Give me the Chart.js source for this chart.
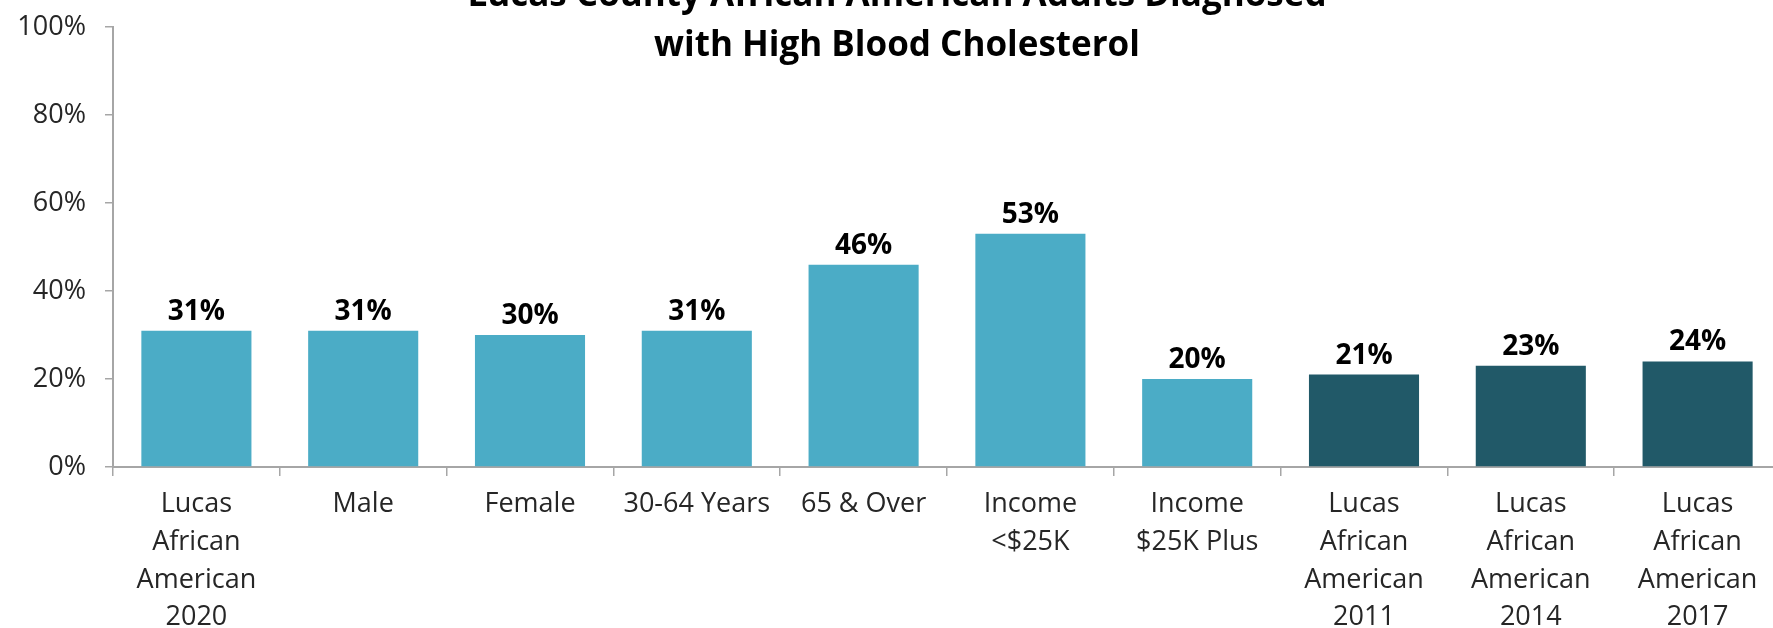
<!DOCTYPE html>
<html>
<head>
<meta charset="utf-8">
<script src="https://cdn.jsdelivr.net/npm/chart.js@4"></script>
<style>
  html, body { margin: 0; padding: 0; background: #fff; overflow: hidden; }
  #chart { display: block; }
</style>
</head>
<body>
<canvas id="chart" width="1781" height="628"></canvas>
<script>
// Chart data
const categories = [
  ['Lucas', 'African', 'American', '2020'],
  'Male',
  'Female',
  '30-64 Years',
  '65 & Over',
  ['Income', '<$25K'],
  ['Income', '$25K Plus'],
  ['Lucas', 'African', 'American', '2011'],
  ['Lucas', 'African', 'American', '2014'],
  ['Lucas', 'African', 'American', '2017']
];
const values = [31, 31, 30, 31, 46, 53, 20, 21, 23, 24];
const barColors = ['#4BACC6', '#4BACC6', '#4BACC6', '#4BACC6', '#4BACC6', '#4BACC6', '#4BACC6',
                   '#215968', '#215968', '#215968'];
const titleLines = ['Lucas County African American Adults Diagnosed', 'with High Blood Cholesterol'];
const yTicks = [0, 20, 40, 60, 80, 100];

const axisColor = '#a6a6a6';
const fontFamily = '"Open Sans", "Noto Sans", sans-serif';

// Draw the title (partly cut off at the top, like the original)
const titlePlugin = {
  id: 'titleText',
  afterDraw(chart) {
    const ctx = chart.ctx;
    ctx.save();
    ctx.fillStyle = '#000';
    ctx.font = `bold 35px ${fontFamily}`;
    ctx.textAlign = 'center';
    ctx.textBaseline = 'alphabetic';
    ctx.fillText(titleLines[0], 897, 6);
    ctx.fillText(titleLines[1], 897, 56);
    ctx.restore();
  }
};

// Value labels above the bars
const valueLabels = {
  id: 'valueLabels',
  afterDatasetsDraw(chart) {
    const ctx = chart.ctx;
    const meta = chart.getDatasetMeta(0);
    ctx.save();
    ctx.fillStyle = '#000';
    ctx.font = `bold 28px ${fontFamily}`;
    ctx.textAlign = 'center';
    ctx.textBaseline = 'alphabetic';
    meta.data.forEach((bar, i) => {
      ctx.fillText(Math.round(values[i]) + '%', bar.x, bar.y - 11);
    });
    ctx.restore();
  }
};

const ctx = document.getElementById('chart').getContext('2d');
new Chart(ctx, {
  type: 'bar',
  data: {
    labels: categories,
    datasets: [{
      data: values,
      backgroundColor: barColors,
      borderWidth: 0,
      categoryPercentage: 1,
      barPercentage: 0.66
    }]
  },
  options: {
    responsive: false,
    animation: false,
    devicePixelRatio: 1,
    layout: { padding: { top: 27, right: 0, bottom: 0, left: 0 } },
    plugins: {
      legend: { display: false },
      title: { display: false },
      tooltip: { enabled: false }
    },
    scales: {
      x: {
        grid: {
          display: true,
          drawOnChartArea: false,
          tickLength: 9,
          color: axisColor,
          lineWidth: 1.5
        },
        border: { color: axisColor, width: 2 },
        ticks: {
          color: '#262626',
          font: { family: fontFamily, size: 27, lineHeight: 1.39 },
          padding: 10,
          maxRotation: 0,
          autoSkip: false
        },
        afterFit: scale => { scale.height = 161; }
      },
      y: {
        min: 0,
        max: 100,
        afterBuildTicks: scale => { scale.ticks = yTicks.map(v => ({ value: v })); },
        grid: {
          display: true,
          drawOnChartArea: false,
          tickLength: 8,
          color: axisColor,
          lineWidth: 1.5
        },
        border: { color: axisColor, width: 2 },
        ticks: {
          color: '#262626',
          font: { family: fontFamily, size: 27, lineHeight: 0.6 },
          padding: 19,
          callback: v => v + '%'
        },
        afterFit: scale => { scale.width = 113; }
      }
    }
  },
  plugins: [titlePlugin, valueLabels]
});
</script>
</body>
</html>
